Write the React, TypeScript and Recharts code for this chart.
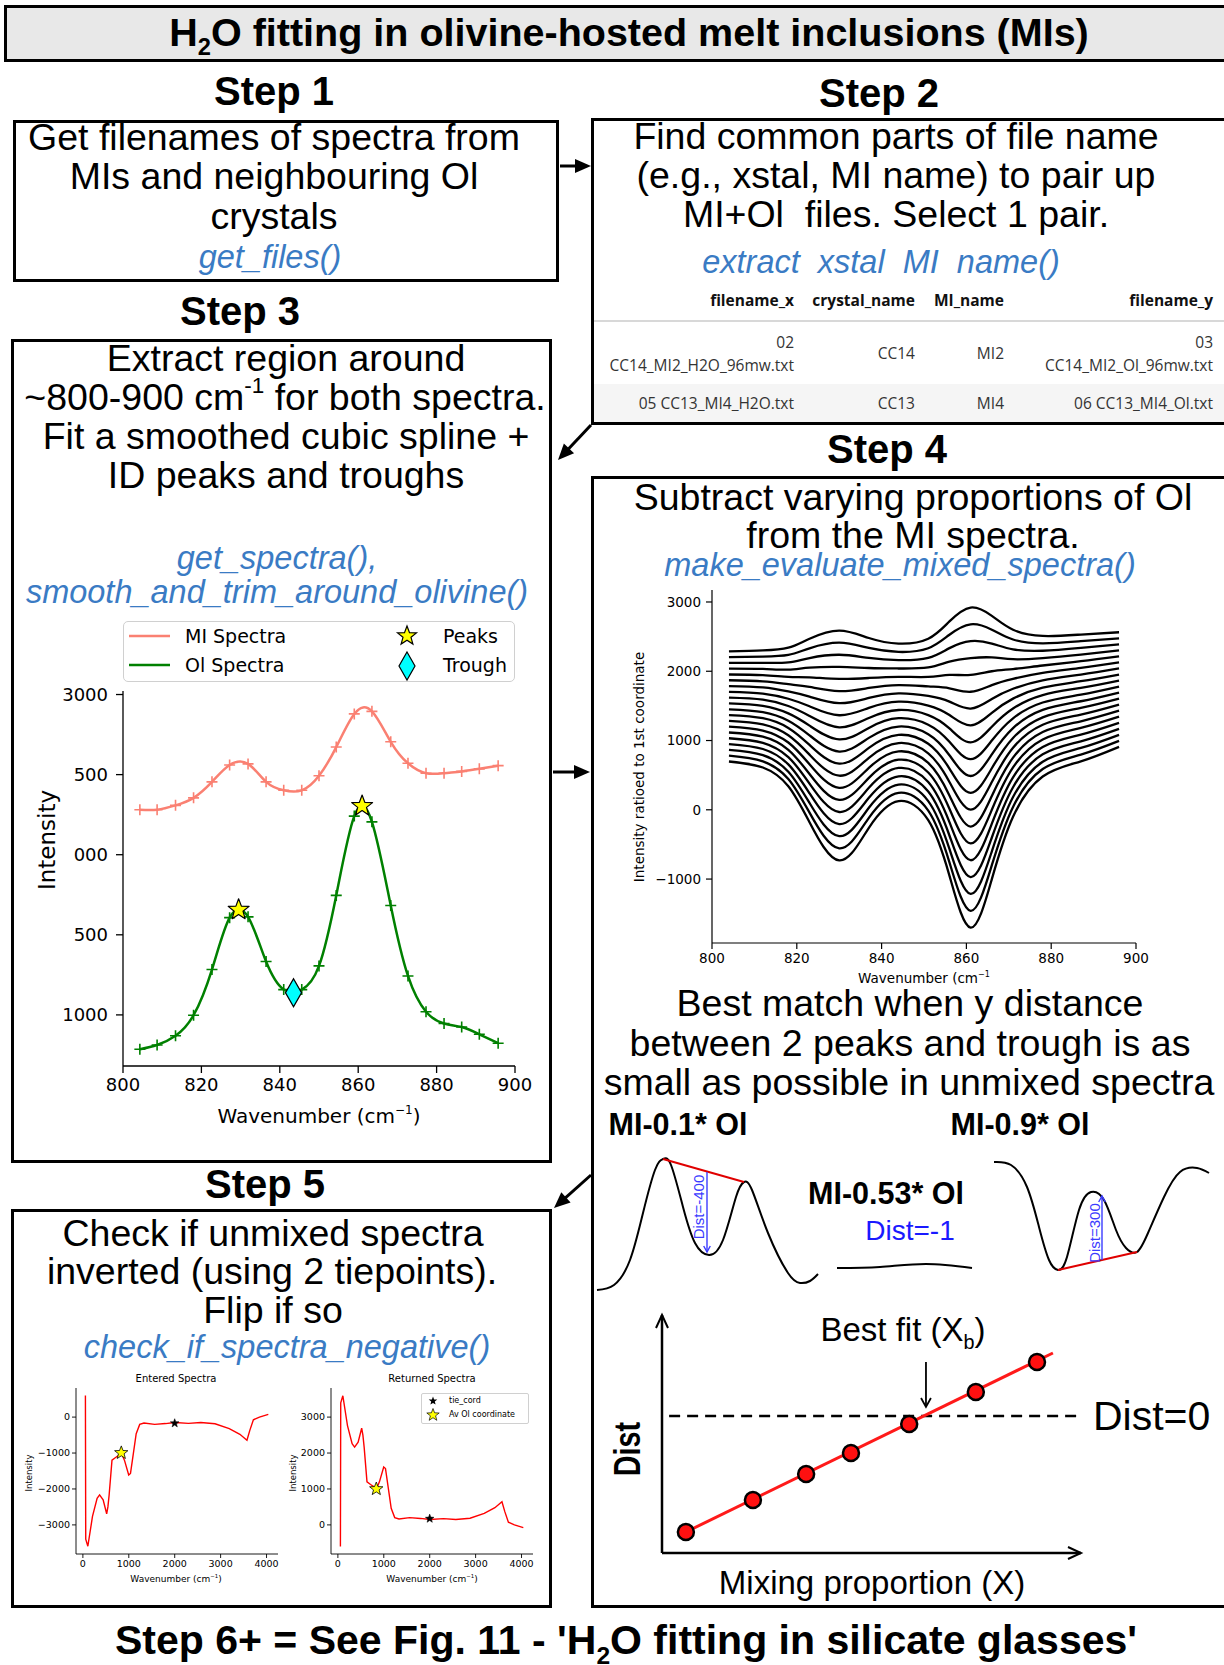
import React from "react";
import { ComposedChart, Line, Scatter, XAxis, YAxis, ReferenceLine } from "recharts";

const SANS = '"Liberation Sans", Arial, Helvetica, sans-serif';
const MPL = '"DejaVu Sans", sans-serif';
const TABLE_FONT = '"Open Sans", "Noto Sans", sans-serif';
const FN_BLUE = "#3a7bc4";
const SKETCH_BLUE = "#3b3bff";

// ---------- Step 3: MI and Ol spectra (raw points + smoothed spline) ----------
const step3Wavenumber = [804.3, 808.7, 813.4, 818.0, 822.7, 827.2, 831.9, 836.5, 841.0, 845.6, 850.0, 854.4, 859.0, 863.5, 868.3, 872.7, 877.3, 881.9, 886.4, 890.9, 895.7];
const miIntensity = [2281, 2281, 2308, 2355, 2455, 2560, 2567, 2455, 2402, 2402, 2493, 2672, 2879, 2895, 2705, 2571, 2509, 2509, 2520, 2536, 2556];
const olIntensity = [786, 812, 870, 998, 1283, 1607, 1612, 1333, 1158, 1158, 1306, 1746, 2241, 2205, 1683, 1243, 1020, 946, 924, 879, 823];
const olPeakX = [829.5, 861];
const olPeakY = [1656, 2304];
const olTroughX = [843.5];
const olTroughY = [1138];
const step3XTicks = [800, 820, 840, 860, 880, 900];
const step3YTicks = [1000, 1500, 2000, 2500, 3000];
const step3YTickLabels = ["1000", "500", "000", "500", "3000"];

// ---------- Step 4: mixed spectra (MI - x*Ol), top curve first ----------
const mixWavenumber = [804, 812, 818, 823, 830, 837, 844, 851, 856, 861, 866, 871, 878, 887, 896];
const mixedSpectra = [
  [2288, 2300, 2340, 2470, 2587, 2480, 2399, 2470, 2720, 2920, 2800, 2600, 2510, 2530, 2563],
  [2204, 2211, 2235, 2331, 2412, 2336, 2279, 2332, 2527, 2677, 2600, 2458, 2403, 2434, 2476],
  [2121, 2122, 2129, 2191, 2238, 2192, 2160, 2194, 2334, 2434, 2400, 2316, 2296, 2337, 2389],
  [2037, 2033, 2024, 2052, 2063, 2047, 2040, 2056, 2140, 2190, 2200, 2174, 2190, 2241, 2302],
  [1953, 1944, 1919, 1912, 1889, 1903, 1920, 1918, 1947, 1947, 2000, 2032, 2083, 2145, 2215],
  [1870, 1855, 1814, 1773, 1714, 1759, 1801, 1781, 1754, 1704, 1800, 1890, 1976, 2049, 2128],
  [1786, 1767, 1708, 1633, 1539, 1615, 1681, 1643, 1561, 1461, 1600, 1747, 1869, 1952, 2040],
  [1702, 1678, 1603, 1494, 1365, 1471, 1561, 1505, 1368, 1218, 1400, 1605, 1762, 1856, 1953],
  [1618, 1589, 1498, 1354, 1190, 1326, 1441, 1367, 1174, 974, 1200, 1463, 1656, 1760, 1866],
  [1535, 1500, 1392, 1215, 1016, 1182, 1322, 1229, 981, 731, 1000, 1321, 1549, 1663, 1779],
  [1451, 1411, 1287, 1075, 841, 1038, 1202, 1091, 788, 488, 800, 1179, 1442, 1567, 1692],
  [1367, 1322, 1182, 936, 666, 894, 1082, 953, 595, 245, 600, 1037, 1335, 1471, 1605],
  [1284, 1233, 1076, 796, 492, 750, 963, 815, 402, 2, 400, 895, 1228, 1374, 1518],
  [1200, 1144, 971, 657, 317, 605, 843, 677, 208, -242, 200, 753, 1122, 1278, 1431],
  [1116, 1055, 866, 517, 143, 461, 723, 539, 15, -485, 0, 611, 1015, 1182, 1344],
  [1033, 967, 761, 378, -32, 317, 604, 402, -178, -728, -200, 468, 908, 1086, 1256],
  [949, 878, 655, 238, -207, 173, 484, 264, -371, -971, -400, 326, 801, 989, 1169],
  [865, 789, 550, 99, -381, 29, 364, 126, -564, -1214, -600, 184, 694, 893, 1082],
  [781, 700, 445, -41, -556, -116, 245, -12, -758, -1458, -800, 42, 588, 797, 995],
  [697, 610, 340, -180, -731, -260, 125, -150, -950, -1700, -1000, -100, 480, 700, 909],
];
const step4YTicks = [-1000, 0, 1000, 2000, 3000];

// ---------- Step 5: entered vs returned (flipped) spectra ----------
const step5Wavenumber = [55, 62, 108, 209, 310, 364, 441, 518, 545, 572, 634, 712, 789, 836, 905, 998, 1037, 1099, 1161, 1238, 1331, 1563, 1800, 2004, 2300, 2569, 2878, 3188, 3420, 3574, 3636, 3714, 3845, 4039];
const enteredIntensity = [600, -3400, -3594, -2765, -2258, -2166, -2304, -2691, -2500, -2166, -1198, -1124, -1060, -995, -1198, -1613, -1567, -1014, -461, -203, -166, -203, -180, -150, -175, -150, -184, -323, -479, -645, -369, -74, 0, 74];
const returnedIntensity = [-600, 3400, 3594, 2765, 2258, 2166, 2304, 2691, 2500, 2166, 1198, 1124, 1060, 995, 1198, 1613, 1567, 1014, 461, 203, 166, 203, 180, 150, 175, 150, 184, 323, 479, 645, 369, 74, 0, -74];
const tieCordX = [2000];
const enteredTieY = [-170];
const returnedTieY = [174];
const avOlX = [836];
const enteredAvOlY = [-995];
const returnedAvOlY = [1000];
const step5XTicks = [0, 1000, 2000, 3000, 4000];
const enteredYTicks = [-3000, -2000, -1000, 0];
const returnedYTicks = [0, 1000, 2000, 3000];

// ---------- Step 4 sketches (arbitrary units) ----------
const sketchLowX = [597, 614, 630, 643, 655, 663, 671, 683, 695, 709, 723, 736, 744, 752, 768, 788, 800, 810, 818];
const sketchLowY = [10, 15, 40, 87, 130, 141, 135, 93, 57, 45, 60, 103, 118, 110, 67, 27, 17, 19, 26];
const sketchMidX = [837, 880, 926, 972];
const sketchMidY = [32, 33, 36, 32];
const sketchHighX = [994, 1011, 1027, 1039, 1049, 1058, 1067, 1079, 1091, 1104, 1116, 1126, 1137, 1148, 1164, 1180, 1197, 1209];
const sketchHighY = [138, 135, 113, 73, 40, 30, 43, 90, 108, 100, 70, 52, 48, 67, 103, 128, 132, 127];
const tieLowX = [663, 744];
const tieLowY = [141, 118];
const tieHighX = [1058, 1137];
const tieHighY = [30, 48];
const distLowX = [707, 707];
const distLowY = [128, 48];
const distHighX = [1102, 1102];
const distHighY = [40, 104];

// ---------- Dist vs mixing proportion ----------
const mixProportion = [0.057, 0.217, 0.344, 0.451, 0.59, 0.749, 0.895];
const distValue = [-464, -336, -232, -148, -32, 96, 216];
const fitLineX = [0.057, 0.933];
const fitLineY = [-464, 252];
const bestFitArrowX = [0.63, 0.63];
const bestFitArrowY = [216, 36];

const xy = (xs: number[], ys: number[]) => xs.map((x, i) => ({ x, y: ys[i] }));
const minusFmt = (v: number) => (v < 0 ? "\u2212" + Math.abs(v) : String(v));
const stk = (w: number) => ({ stroke: "#000", strokeWidth: w });

function starPath(cx: number, cy: number, R: number) {
  const r = R * 0.42;
  let d = "";
  for (let i = 0; i < 10; i++) {
    const rad = i % 2 === 0 ? R : r;
    const a = -Math.PI / 2 + (i * Math.PI) / 5;
    d += (i === 0 ? "M" : "L") + (cx + rad * Math.cos(a)).toFixed(1) + "," + (cy + rad * Math.sin(a)).toFixed(1);
  }
  return d + "Z";
}

const starShape = (R: number, fill: string, sw = 1.2) => (p: any) =>
  <path d={starPath(p.cx, p.cy, R)} fill={fill} stroke="#000" strokeWidth={sw} strokeLinejoin="round" />;

const diamondPath = (cx: number, cy: number) => `M${cx},${cy - 14}L${cx + 8},${cy}L${cx},${cy + 14}L${cx - 8},${cy}Z`;
const diamondShape = (p: any) => <path d={diamondPath(p.cx, p.cy)} fill="#00ffff" stroke="#000" strokeWidth={1.3} />;

const circleShape = (p: any) => <circle cx={p.cx} cy={p.cy} r={8} fill="#ff1010" stroke="#000" strokeWidth={2.5} />;

const plusDot = (color: string) => (p: any) => {
  if (p.cx == null || p.cy == null) return <g key={`p${p.index}`} />;
  return <path key={`p${p.index}`} d={`M${p.cx - 5.5},${p.cy}h11M${p.cx},${p.cy - 5.5}v11`} stroke={color} strokeWidth={1.6} />;
};

const arrowDot = (dir: "up" | "down", color: string, size: number, sw: number) => (p: any) => {
  if (p.index !== 1 || p.cx == null) return <g key={`a${p.index}`} />;
  const s = dir === "down" ? -1 : 1;
  return (
    <path key={`a${p.index}`} d={`M${p.cx - size * 0.55},${p.cy + s * size}L${p.cx},${p.cy}L${p.cx + size * 0.55},${p.cy + s * size}`}
      fill="none" stroke={color} strokeWidth={sw} />
  );
};

function frame(xd: number[], yd: number[], w: number) {
  return [
    <XAxis key="ft" xAxisId="frameTop" orientation="top" type="number" domain={xd} allowDataOverflow height={0} tick={false} tickLine={false} axisLine={stk(w)} />,
    <YAxis key="fr" yAxisId="frameRight" orientation="right" type="number" domain={yd} allowDataOverflow width={0} tick={false} tickLine={false} axisLine={stk(w)} />,
  ];
}

type TP = {
  x: number; y: number; size: number; bold?: boolean; italic?: boolean; color?: string;
  font?: string; align?: "left" | "center" | "right"; rotate?: number; sx?: number; children: React.ReactNode;
};
function Txt({ x, y, size, bold, italic, color = "#000", font = SANS, align = "center", rotate, sx, children }: TP) {
  const tx = align === "center" ? "-50%" : align === "right" ? "-100%" : "0%";
  let tf = `translate(${tx}, -50%)`;
  if (rotate) tf += ` rotate(${rotate}deg)`;
  if (sx) tf += ` scaleX(${sx})`;
  return (
    <div style={{
      position: "absolute", left: x, top: y, transform: tf, transformOrigin: align === "left" ? "0 50%" : "50% 50%",
      fontSize: size, fontWeight: bold ? 700 : 400, fontStyle: italic ? "italic" : "normal",
      color, fontFamily: font, whiteSpace: "pre", lineHeight: 0.85,
    }}>{children}</div>
  );
}
const Sup = ({ children }: { children: React.ReactNode }) => (
  <span style={{ fontSize: "0.6em", position: "relative", top: "-0.75em" }}>{children}</span>
);
const Sub = ({ children }: { children: React.ReactNode }) => (
  <span style={{ fontSize: "0.6em", position: "relative", top: "0.4em" }}>{children}</span>
);

function Box({ l, t, w, h, bg }: { l: number; t: number; w: number; h: number; bg?: string }) {
  return <div style={{ position: "absolute", left: l, top: t, width: w, height: h, border: "3px solid #000", boxSizing: "border-box", background: bg || "transparent" }} />;
}

function arrowHead(x1: number, y1: number, x2: number, y2: number, len = 16, half = 7) {
  const a = Math.atan2(y2 - y1, x2 - x1);
  const bx = x2 - len * Math.cos(a), by = y2 - len * Math.sin(a);
  const px = -Math.sin(a) * half, py = Math.cos(a) * half;
  return `M${x2},${y2}L${bx + px},${by + py}L${bx - px},${by - py}Z`;
}
function FlowArrow({ x1, y1, x2, y2 }: { x1: number; y1: number; x2: number; y2: number }) {
  const a = Math.atan2(y2 - y1, x2 - x1);
  return (
    <g>
      <line x1={x1} y1={y1} x2={x2 - 10 * Math.cos(a)} y2={y2 - 10 * Math.sin(a)} stroke="#000" strokeWidth={3} />
      <path d={arrowHead(x1, y1, x2, y2)} fill="#000" />
    </g>
  );
}

const mplTick = (size: number) => ({ fontSize: size, fill: "#000", fontFamily: MPL });

function Step3Chart() {
  const mi = xy(step3Wavenumber, miIntensity);
  const ol = xy(step3Wavenumber, olIntensity);
  return (
    <div style={{ position: "absolute", left: 0, top: 600 }}>
      <ComposedChart width={540} height={530} margin={{ top: 91, right: 25, bottom: 0, left: 0 }}>
        <XAxis type="number" dataKey="x" domain={[800, 900]} allowDataOverflow ticks={step3XTicks} interval={0} height={64}
          tickSize={7} tickMargin={5} tick={mplTick(18)} axisLine={stk(1.3)} tickLine={stk(1.3)} />
        <YAxis type="number" domain={[681, 3022]} allowDataOverflow ticks={step3YTicks} interval={0} width={123}
          tickSize={7} tickMargin={8} tick={mplTick(18)} axisLine={stk(1.3)} tickLine={stk(1.3)}
          tickFormatter={(v: number) => step3YTickLabels[step3YTicks.indexOf(v)]} />
        {frame([800, 900], [681, 3022], 1.3)}
        <Line data={mi} dataKey="y" type="natural" stroke="#fa8072" strokeWidth={2.5} dot={plusDot("#fa8072")} isAnimationActive={false} />
        <Line data={ol} dataKey="y" type="natural" stroke="#008000" strokeWidth={2.5} dot={plusDot("#008000")} isAnimationActive={false} />
        <Scatter data={xy(olTroughX, olTroughY)} dataKey="y" shape={diamondShape} isAnimationActive={false} />
        <Scatter data={xy(olPeakX, olPeakY)} dataKey="y" shape={starShape(11, "#ffff00")} isAnimationActive={false} />
      </ComposedChart>
    </div>
  );
}

function Step4Chart() {
  return (
    <div style={{ position: "absolute", left: 590, top: 570 }}>
      <ComposedChart width={570} height={430} margin={{ top: 20, right: 24, bottom: 0, left: 0 }}>
        <XAxis type="number" dataKey="x" domain={[800, 900]} allowDataOverflow ticks={step3XTicks} interval={0} height={57}
          tickSize={6} tickMargin={4} tick={mplTick(13.5)} axisLine={stk(1.2)} tickLine={stk(1.2)} />
        <YAxis type="number" domain={[-1923, 3173]} allowDataOverflow ticks={step4YTicks} interval={0} width={122}
          tickSize={6} tickMargin={5} tick={mplTick(13.5)} axisLine={stk(1.2)} tickLine={stk(1.2)} tickFormatter={minusFmt} />
        {frame([800, 900], [-1923, 3173], 1.2)}
        {mixedSpectra.map((curve, i) => (
          <Line key={i} data={xy(mixWavenumber, curve)} dataKey="y" type="natural" stroke="#000" strokeWidth={2.3} dot={false} isAnimationActive={false} />
        ))}
      </ComposedChart>
    </div>
  );
}

function Step5Chart({ left, yAxisW, right, ys, yTicks, tieY, avY, domainY }: {
  left: number; yAxisW: number; right: number; ys: number[]; yTicks: number[]; tieY: number[]; avY: number[]; domainY: number[];
}) {
  return (
    <div style={{ position: "absolute", left, top: 1370 }}>
      <ComposedChart width={270} height={220} margin={{ top: 18, right, bottom: 0, left: 0 }}>
        <XAxis type="number" dataKey="x" domain={[-150, 4250]} allowDataOverflow ticks={step5XTicks} interval={0} height={36}
          tickSize={4} tickMargin={2} tick={mplTick(9.5)} axisLine={stk(0.9)} tickLine={stk(0.9)} />
        <YAxis type="number" domain={domainY} allowDataOverflow ticks={yTicks} interval={0} width={yAxisW}
          tickSize={4} tickMargin={2} tick={mplTick(9.5)} axisLine={stk(0.9)} tickLine={stk(0.9)} tickFormatter={minusFmt} />
        {frame([-150, 4250], domainY, 0.9)}
        <Line data={xy(step5Wavenumber, ys)} dataKey="y" type="linear" stroke="#ff0000" strokeWidth={1.4} dot={false} isAnimationActive={false} />
        <Scatter data={xy(tieCordX, tieY)} dataKey="y" shape={starShape(4.5, "#000", 0.5)} isAnimationActive={false} />
        <Scatter data={xy(avOlX, avY)} dataKey="y" shape={starShape(7, "#ffff00", 0.8)} isAnimationActive={false} />
      </ComposedChart>
    </div>
  );
}

function SketchChart() {
  const line = (xs: number[], ys: number[], color: string, w: number, key: string) => (
    <Line key={key} data={xy(xs, ys)} dataKey="y" type="natural" stroke={color} strokeWidth={w} dot={false} isAnimationActive={false} />
  );
  return (
    <div style={{ position: "absolute", left: 590, top: 1140 }}>
      <ComposedChart width={634} height={160} margin={{ top: 0, right: 0, bottom: 0, left: 0 }}>
        <XAxis type="number" dataKey="x" domain={[590, 1224]} allowDataOverflow hide />
        <YAxis type="number" domain={[0, 160]} allowDataOverflow hide />
        {line(sketchLowX, sketchLowY, "#000", 2, "s1")}
        {line(sketchMidX, sketchMidY, "#000", 2, "s2")}
        {line(sketchHighX, sketchHighY, "#000", 2, "s3")}
        <Line data={xy(tieLowX, tieLowY)} dataKey="y" type="linear" stroke="#e00000" strokeWidth={2} dot={false} isAnimationActive={false} />
        <Line data={xy(tieHighX, tieHighY)} dataKey="y" type="linear" stroke="#e00000" strokeWidth={2} dot={false} isAnimationActive={false} />
        <Line data={xy(distLowX, distLowY)} dataKey="y" type="linear" stroke={SKETCH_BLUE} strokeWidth={1.4} dot={arrowDot("down", SKETCH_BLUE, 6, 1.4)} isAnimationActive={false} />
        <Line data={xy(distHighX, distHighY)} dataKey="y" type="linear" stroke={SKETCH_BLUE} strokeWidth={1.4} dot={arrowDot("up", SKETCH_BLUE, 6, 1.4)} isAnimationActive={false} />
      </ComposedChart>
    </div>
  );
}

function DistChart() {
  return (
    <div style={{ position: "absolute", left: 600, top: 1300 }}>
      <ComposedChart width={500} height={280} margin={{ top: 15, right: 19, bottom: 0, left: 0 }}>
        <XAxis type="number" dataKey="x" domain={[0, 1]} allowDataOverflow height={27} tick={false} tickLine={false} axisLine={stk(2.5)} />
        <YAxis type="number" domain={[-548, 404]} allowDataOverflow width={62} tick={false} tickLine={false} axisLine={stk(2.5)} />
        <ReferenceLine segment={[{ x: 0.017, y: 0 }, { x: 0.995, y: 0 }]} stroke="#000" strokeWidth={2.5} strokeDasharray="11 7" />
        <Line data={xy(fitLineX, fitLineY)} dataKey="y" type="linear" stroke="#ff1a1a" strokeWidth={3} dot={false} isAnimationActive={false} />
        <Scatter data={xy(mixProportion, distValue)} dataKey="y" shape={circleShape} isAnimationActive={false} />
        <Line data={xy(bestFitArrowX, bestFitArrowY)} dataKey="y" type="linear" stroke="#000" strokeWidth={1.8} dot={arrowDot("down", "#000", 9, 1.8)} isAnimationActive={false} />
      </ComposedChart>
    </div>
  );
}

export default function App() {
  const rowText = { size: 15.5, font: TABLE_FONT, color: "#333", align: "right" as const };
  return (
    <div style={{ position: "absolute", left: 0, top: 0, width: 1224, height: 1665, background: "#fff", overflow: "hidden", fontFamily: SANS }}>
      {/* frames */}
      <Box l={4} t={5} w={1230} h={57} bg="#e8e8e8" />
      <Box l={13} t={120} w={546} h={162} />
      <Box l={591} t={118} w={640} h={307} />
      <Box l={11} t={339} w={541} h={824} />
      <Box l={591} t={476} w={640} h={1132} />
      <Box l={11} t={1209} w={541} h={399} />

      {/* headings */}
      <Txt x={629} y={33} size={39.5} bold>H<Sub>2</Sub>O fitting in olivine-hosted melt inclusions (MIs)</Txt>
      <Txt x={274} y={91} size={40} bold>Step 1</Txt>
      <Txt x={879} y={93} size={40} bold>Step 2</Txt>
      <Txt x={240} y={311} size={40} bold>Step 3</Txt>
      <Txt x={887} y={449} size={40} bold>Step 4</Txt>
      <Txt x={265} y={1184} size={40} bold>Step 5</Txt>
      <Txt x={626} y={1640} size={41} bold>Step 6+ = See Fig. 11 - 'H<Sub>2</Sub>O fitting in silicate glasses'</Txt>

      {/* step 1 */}
      <Txt x={274} y={138} size={37.5}>Get filenames of spectra from</Txt>
      <Txt x={274} y={177} size={37.5}>MIs and neighbouring Ol</Txt>
      <Txt x={274} y={217} size={37.5}>crystals</Txt>
      <Txt x={270} y={258} size={32.5} italic color={FN_BLUE}>get_files()</Txt>

      {/* step 2 */}
      <Txt x={896} y={137} size={37.5}>Find common parts of file name</Txt>
      <Txt x={896} y={176} size={37.5}>(e.g., xstal, MI name) to pair up</Txt>
      <Txt x={896} y={215} size={37.5}>MI+Ol  files. Select 1 pair.</Txt>
      <Txt x={881} y={263} size={32.5} italic color={FN_BLUE}>extract  xstal  MI  name()</Txt>
      <div style={{ position: "absolute", left: 594, top: 320, width: 630, height: 1.5, background: "#d8d8d8" }} />
      <div style={{ position: "absolute", left: 594, top: 384, width: 630, height: 38, background: "#f5f5f5" }} />
      <Txt x={794} y={301} size={15.5} bold font={TABLE_FONT} color="#111" align="right">filename_x</Txt>
      <Txt x={915} y={301} size={15.5} bold font={TABLE_FONT} color="#111" align="right">crystal_name</Txt>
      <Txt x={1004} y={301} size={15.5} bold font={TABLE_FONT} color="#111" align="right">MI_name</Txt>
      <Txt x={1213} y={301} size={15.5} bold font={TABLE_FONT} color="#111" align="right">filename_y</Txt>
      <Txt x={794} y={343} {...rowText}>02</Txt>
      <Txt x={794} y={366} {...rowText}>CC14_MI2_H2O_96mw.txt</Txt>
      <Txt x={915} y={354} {...rowText}>CC14</Txt>
      <Txt x={1004} y={354} {...rowText}>MI2</Txt>
      <Txt x={1213} y={343} {...rowText}>03</Txt>
      <Txt x={1213} y={366} {...rowText}>CC14_MI2_Ol_96mw.txt</Txt>
      <Txt x={794} y={404} {...rowText}>05 CC13_MI4_H2O.txt</Txt>
      <Txt x={915} y={404} {...rowText}>CC13</Txt>
      <Txt x={1004} y={404} {...rowText}>MI4</Txt>
      <Txt x={1213} y={404} {...rowText}>06 CC13_MI4_Ol.txt</Txt>

      {/* step 3 */}
      <Txt x={286} y={359} size={37.5}>Extract region around</Txt>
      <Txt x={285} y={398} size={37.5}>~800-900 cm<Sup>-1</Sup> for both spectra.</Txt>
      <Txt x={286} y={437} size={37.5}>Fit a smoothed cubic spline +</Txt>
      <Txt x={286} y={476} size={37.5}>ID peaks and troughs</Txt>
      <Txt x={277} y={559} size={32.5} italic color={FN_BLUE}>get_spectra(),</Txt>
      <Txt x={277} y={593} size={32.5} italic color={FN_BLUE}>smooth_and_trim_around_olivine()</Txt>
      <div style={{ position: "absolute", left: 123, top: 621, width: 392, height: 61, border: "1.3px solid #d0d0d0", borderRadius: 5, boxSizing: "border-box" }} />
      <Txt x={185} y={636} size={19} font={MPL} align="left">MI Spectra</Txt>
      <Txt x={185} y={665} size={19} font={MPL} align="left">Ol Spectra</Txt>
      <Txt x={443} y={636} size={19} font={MPL} align="left">Peaks</Txt>
      <Txt x={443} y={665} size={19} font={MPL} align="left">Trough</Txt>
      <Step3Chart />
      <Txt x={48} y={840} size={23} font={MPL} rotate={-90}>Intensity</Txt>
      <Txt x={319} y={1116} size={20} font={MPL}>Wavenumber (cm<Sup>−1</Sup>)</Txt>

      {/* step 4 */}
      <Txt x={913} y={498} size={37.5}>Subtract varying proportions of Ol</Txt>
      <Txt x={913} y={536} size={37.5}>from the MI spectra.</Txt>
      <Txt x={900} y={566} size={32.5} italic color={FN_BLUE}>make_evaluate_mixed_spectra()</Txt>
      <Step4Chart />
      <Txt x={640} y={767} size={13.5} font={MPL} rotate={-90}>Intensity ratioed to 1st coordinate</Txt>
      <Txt x={924} y={979} size={13.5} font={MPL}>Wavenumber (cm<Sup>−1</Sup></Txt>
      <Txt x={910} y={1004} size={37.5}>Best match when y distance</Txt>
      <Txt x={910} y={1044} size={37.5}>between 2 peaks and trough is as</Txt>
      <Txt x={909} y={1083} size={37.5}>small as possible in unmixed spectra</Txt>
      <Txt x={678} y={1125} size={30.5} bold>MI-0.1* Ol</Txt>
      <Txt x={1020} y={1125} size={30.5} bold>MI-0.9* Ol</Txt>
      <Txt x={886} y={1194} size={30.5} bold>MI-0.53* Ol</Txt>
      <Txt x={910} y={1231} size={28} color="#1a1aff">Dist=-1</Txt>
      <SketchChart />
      <Txt x={699} y={1207} size={15} color={SKETCH_BLUE} rotate={-90}>Dist=-400</Txt>
      <Txt x={1095} y={1233} size={15} color={SKETCH_BLUE} rotate={-90}>Dist=300</Txt>
      <DistChart />
      <Txt x={903} y={1330} size={33}>Best fit (X<Sub>b</Sub>)</Txt>
      <Txt x={1093} y={1416} size={41} align="left">Dist=0</Txt>
      <Txt x={628} y={1449} size={36} bold rotate={-90} sx={0.8}>Dist</Txt>
      <Txt x={872} y={1583} size={33}>Mixing proportion (X)</Txt>

      {/* step 5 */}
      <Txt x={273} y={1234} size={37.5}>Check if unmixed spectra</Txt>
      <Txt x={272} y={1272} size={37.5}>inverted (using 2 tiepoints).</Txt>
      <Txt x={273} y={1311} size={37.5}>Flip if so</Txt>
      <Txt x={287} y={1348} size={32.5} italic color={FN_BLUE}>check_if_spectra_negative()</Txt>
      <Step5Chart left={20} yAxisW={56} right={12} ys={enteredIntensity} yTicks={enteredYTicks} tieY={enteredTieY} avY={enteredAvOlY} domainY={[-3810, 810]} />
      <Step5Chart left={280} yAxisW={51} right={17} ys={returnedIntensity} yTicks={returnedYTicks} tieY={returnedTieY} avY={returnedAvOlY} domainY={[-810, 3810]} />
      <Txt x={176} y={1379} size={10} font={MPL}>Entered Spectra</Txt>
      <Txt x={432} y={1379} size={10} font={MPL}>Returned Spectra</Txt>
      <Txt x={30} y={1473} size={8.5} font={MPL} rotate={-90}>Intensity</Txt>
      <Txt x={294} y={1473} size={8.5} font={MPL} rotate={-90}>Intensity</Txt>
      <Txt x={176} y={1580} size={9} font={MPL}>Wavenumber (cm<Sup>−1</Sup>)</Txt>
      <Txt x={432} y={1580} size={9} font={MPL}>Wavenumber (cm<Sup>−1</Sup>)</Txt>
      <div style={{ position: "absolute", left: 421, top: 1393, width: 108, height: 31, border: "0.8px solid #d0d0d0", borderRadius: 2, boxSizing: "border-box", background: "#fff" }} />
      <Txt x={449} y={1401} size={8} font={MPL} align="left">tie_cord</Txt>
      <Txt x={449} y={1415} size={8} font={MPL} align="left">Av Ol coordinate</Txt>

      {/* overlay: flow arrows, axis arrowheads, legend icons */}
      <svg width={1224} height={1665} style={{ position: "absolute", left: 0, top: 0, pointerEvents: "none" }}>
        <FlowArrow x1={560} y1={166} x2={591} y2={166} />
        <FlowArrow x1={591} y1={425} x2={558} y2={460} />
        <FlowArrow x1={553} y1={772} x2={590} y2={772} />
        <FlowArrow x1={591} y1={1175} x2={554} y2={1208} />
        <path d="M656,1328L662,1315L668,1328" fill="none" stroke="#000" strokeWidth={2} />
        <path d="M1068,1547L1081,1553L1068,1559" fill="none" stroke="#000" strokeWidth={2} />
        <line x1={129} y1={636} x2={170} y2={636} stroke="#fa8072" strokeWidth={2.5} />
        <line x1={129} y1={665} x2={170} y2={665} stroke="#008000" strokeWidth={2.5} />
        <path d={starPath(407, 636, 10)} fill="#ffff00" stroke="#000" strokeWidth={1.2} />
        <path d={diamondPath(407, 666)} fill="#00ffff" stroke="#000" strokeWidth={1.2} />
        <path d={starPath(433, 1401, 4.5)} fill="#000" />
        <path d={starPath(433, 1415, 6.5)} fill="#ffff00" stroke="#000" strokeWidth={0.7} />
      </svg>
    </div>
  );
}
